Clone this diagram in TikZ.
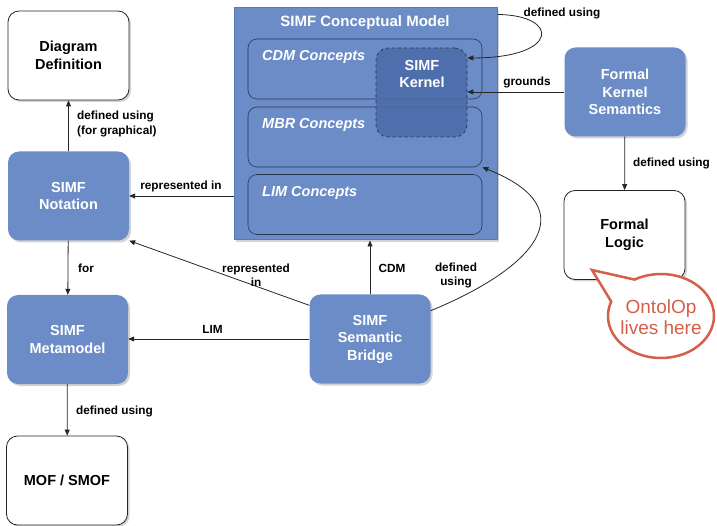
\documentclass[tikz,border=0pt]{standalone}
\usepackage{fontspec}
\setmainfont{Liberation Sans}
\usetikzlibrary{positioning,calc,arrows.meta,shadows,shapes.callouts}
\definecolor{simfblue}{HTML}{6C8CC8}
\definecolor{simfdark}{HTML}{4B6BA8}
\definecolor{simfline}{HTML}{2A3552}
\definecolor{simfedge}{HTML}{5877B5}
\definecolor{calloutred}{HTML}{D65F49}

\begin{document}
\begin{tikzpicture}[x=1pt, y=-1pt,
  simfbox/.style={rounded corners=11pt, minimum width=121pt, minimum height=89pt, align=center,
    font=\fontsize{14.5}{17.5}\selectfont\bfseries, inner sep=2pt,
    drop shadow={shadow xshift=2pt, shadow yshift=-2pt, opacity=0.35}},
  bluebox/.style={simfbox, fill=simfblue, text=white},
  whitebox/.style={simfbox, fill=white, draw=black!85, line width=0.8pt},
  concept/.style={draw=simfline, line width=0.6pt, rounded corners=9pt, minimum width=234pt, minimum height=60pt},
  ctitle/.style={font=\fontsize{14.5}{17}\selectfont\bfseries\itshape, text=white, anchor=west, inner sep=0pt},
  lbl/.style={font=\fontsize{11.8}{14.5}\selectfont\bfseries, inner sep=1pt, align=center},
  arr/.style={-{Triangle[length=6pt,width=5pt]}, line width=0.8pt, draw=black!85},
]
\useasboundingbox (0,0) rectangle (717,526);

% ---------- SIMF conceptual model ----------
\node[fill=simfblue, draw=simfedge, line width=1pt, minimum width=263pt, minimum height=232pt,
  drop shadow={shadow xshift=2pt, shadow yshift=-2pt, opacity=0.35}] (cm) at (365.5,124) {};
\node[font=\fontsize{15}{17}\selectfont\bfseries, text=white] (cmt) at (365,23) {SIMF Conceptual Model};
\node[concept] (cdm) at (365,69) {};
\node[concept] (mbr) at (365,137) {};
\node[concept] (lim) at (365,204.5) {};
\node[ctitle] (cdmt) at (262,57) {CDM Concepts};
\node[ctitle] (mbrt) at (262,125) {MBR Concepts};
\node[ctitle] (limt) at (262,193) {LIM Concepts};
% kernel overlaps CDM and MBR
\node[draw=simfline, dashed, line width=0.7pt, fill=simfdark, fill opacity=0.85, rounded corners=12pt,
  minimum width=91pt, minimum height=89pt] (kern) at (421.5,92.5) {};
\node[font=\fontsize{14.5}{17}\selectfont\bfseries, text=white, align=center] (kernt) at (422,74.5) {SIMF\\Kernel};

% ---------- left column ----------
\node[whitebox] (diag) at (68.5,55.5) {Diagram\\Definition};
\node[bluebox] (nota) at (68.5,196) {SIMF\\Notation};
\node[bluebox] (meta) at (67.5,339.5) {SIMF\\Metamodel};
\node[whitebox] (mof) at (67,480.5) {MOF / SMOF};

% ---------- bridge and right column ----------
\node[bluebox] (bridge) at (370,339) {SIMF\\Semantic\\Bridge};
\node[bluebox] (fks) at (625,92) {Formal\\Kernel\\Semantics};
\node[whitebox] (logic) at (624.5,235) {Formal\\Logic};

% ---------- callout ----------
\coordinate (tip) at (592,270);
\node[ellipse callout, draw=calloutred, line width=2.5pt, fill=white, minimum width=106pt, minimum height=84pt,
  callout pointer arc=40, callout absolute pointer={(tip)}] (ontol) at (661,316) {};
\node[font=\fontsize{19}{21.5}\selectfont, text=calloutred, align=center] (ontolt) at (661,317) {OntolOp\\lives here};

% ---------- connectors ----------
\draw[arr] (nota) -- (diag);
\node[lbl, anchor=west, align=left] (l1) at (76,124) {defined using\\(for graphical)};
\draw[arr] (cm.west |- nota.east) -- (nota.east);
\node[lbl] (l2) at (181,186) {represented in};
\draw[arr] (nota) -- (meta);
\node[lbl] (l3) at (86,268) {for};
\draw[arr] (bridge.151) -- (nota.south east);
\node[lbl] (l4) at (256,275) {represented\\in};
\draw[arr] (bridge.west) -- (bridge.west -| meta.east);
\node[lbl] (l5) at (212.5,329) {LIM};
\draw[arr] (bridge.north) -- (bridge.north |- cm.south);
\node[lbl] (l6) at (392,268) {CDM};
\draw[arr] (bridge.25) .. controls (530,270) and (590,210) .. (mbr.south east);
\node[lbl] (l7) at (456,275.5) {defined\\using};
\draw[arr] (meta) -- (mof);
\node[lbl, anchor=west] (l8) at (75,411) {defined using};
\draw[arr] ([yshift=-7pt]cm.north east) .. controls (560,15) and (560,58) .. (kern.37);
\node[lbl] (l9) at (562,13) {defined using};
\draw[arr] (fks.west) -- (fks.west -| kern.east);
\node[lbl] (l10) at (527,82) {grounds};
\draw[arr] (fks) -- (logic);
\node[lbl, anchor=west] (l11) at (632,163) {defined using};
\end{tikzpicture}
\end{document}
